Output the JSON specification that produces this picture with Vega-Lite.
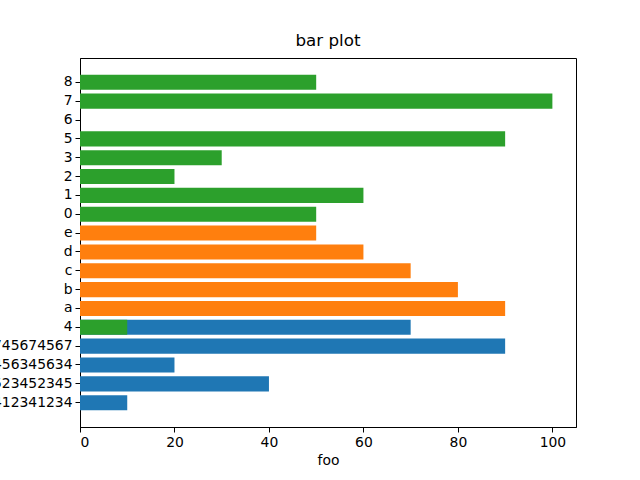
{
"$schema":"https://vega.github.io/schema/vega-lite/v6.json",
"width":496,"height":369,
"autosize":{"type":"none"},
"padding":{"left":80,"top":58,"right":64,"bottom":53},
"title":{"text":"bar plot","font":"DejaVu Sans","fontSize":16.7,"fontWeight":"normal","offset":8},
"config":{"view":{"stroke":"black","strokeWidth":1},"axis":{"labelFont":"DejaVu Sans","titleFont":"DejaVu Sans","labelFontSize":13.9,"titleFontSize":13.9,"titleFontWeight":"normal","labelColor":"black","titleColor":"black","domainColor":"black","tickColor":"black","grid":false,"tickSize":5,"labelPadding":3}},
"data":{"values":[
{"k":"1234123412341234","v":10,"s":"A"},
{"k":"2345234523452345","v":40,"s":"A"},
{"k":"5634563456345634","v":20,"s":"A"},
{"k":"4567456745674567","v":90,"s":"A"},
{"k":"4","v":70,"s":"A"},
{"k":"a","v":90,"s":"B"},
{"k":"b","v":80,"s":"B"},
{"k":"c","v":70,"s":"B"},
{"k":"d","v":60,"s":"B"},
{"k":"e","v":50,"s":"B"},
{"k":"4","v":10,"s":"C"},
{"k":"0","v":50,"s":"C"},
{"k":"1","v":60,"s":"C"},
{"k":"2","v":20,"s":"C"},
{"k":"3","v":30,"s":"C"},
{"k":"5","v":90,"s":"C"},
{"k":"6","v":0,"s":"C"},
{"k":"7","v":100,"s":"C"},
{"k":"8","v":50,"s":"C"}
]},
"mark":{"type":"bar"},
"encoding":{
"y":{"field":"k","type":"nominal","title":null,"sort":["8","7","6","5","3","2","1","0","e","d","c","b","a","4","4567456745674567","5634563456345634","2345234523452345","1234123412341234"],"scale":{"paddingInner":0.2,"paddingOuter":0.89},"axis":{"labelAngle":0}},
"x":{"field":"v","type":"quantitative","stack":null,"title":"foo","scale":{"domain":[0,105],"nice":false},"axis":{"values":[0,20,40,60,80,100],"titlePadding":5}},
"color":{"field":"s","type":"nominal","legend":null,"scale":{"domain":["A","B","C"],"range":["#1f77b4","#ff7f0e","#2ca02c"]}},
"order":{"field":"s"}
}
}
